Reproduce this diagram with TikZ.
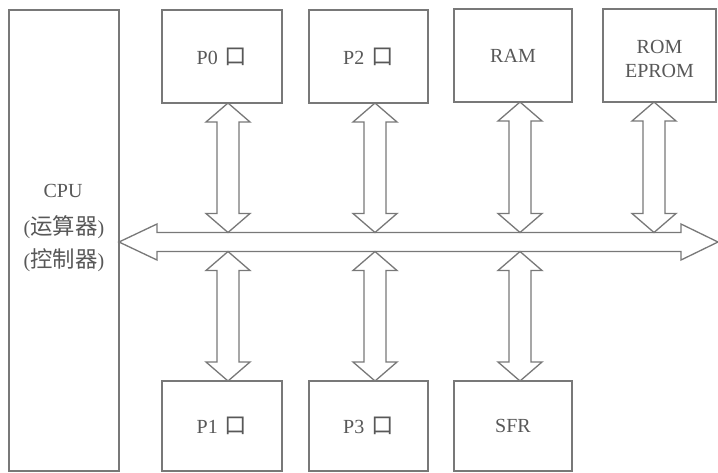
\documentclass[tikz,border=0pt]{standalone}
\usepackage{fontspec}
\setmainfont{Liberation Serif}
\newfontfamily\cjk[Scale=1.12]{Noto Sans CJK SC}
\definecolor{ln}{HTML}{787878}
\definecolor{tx}{HTML}{585858}
\newcommand\vdarr[3]{\draw[arr] (#1,#2) -- ({#1+22},{#2+19}) -- ({#1+11},{#2+19}) -- ({#1+11},{#3-19}) -- ({#1+22},{#3-19}) -- (#1,#3) -- ({#1-22},{#3-19}) -- ({#1-11},{#3-19}) -- ({#1-11},{#2+19}) -- ({#1-22},{#2+19}) -- cycle;}
\newcommand\kou{\hspace{0.35em}{\cjk 口}}
\begin{document}
\begin{tikzpicture}[x=1pt,y=-1pt,
  box/.style={draw=ln,line width=1.5pt,inner sep=0pt,text=tx,font=\fontsize{20}{25}\selectfont,align=center},
  lbl/.style={text=tx,font=\fontsize{20}{25}\selectfont,align=center,inner sep=0pt},
  arr/.style={draw=ln,line width=1.3pt,fill=white,line join=miter}]
\useasboundingbox (0,0) rectangle (718,472);
\fill[white] (0,0) rectangle (718,472);
% boxes
\node[box,minimum width=110,minimum height=461] (cpu) at (64,240.5) {};
\node[lbl] (cpua) at (63,191) {CPU};
\node[lbl] (cpub) at (64,227) {({\cjk 运算器})};
\node[lbl] (cpuc) at (64,260) {({\cjk 控制器})};
\node[box,minimum width=120,minimum height=93] (p0) at (222,56.5) {P0\kou};
\node[box,minimum width=119,minimum height=93] (p2) at (368.5,56.5) {P2\kou};
\node[box,minimum width=118,minimum height=93] (ram) at (513,55.5) {RAM};
\node[box,minimum width=113,minimum height=93] (rom) at (659.5,55.5) {};
\node[lbl] (romt) at (659.5,59) {ROM\\[-1pt]EPROM};
\node[box,minimum width=120,minimum height=90] (p1) at (222,426) {P1\kou};
\node[box,minimum width=119,minimum height=90] (p3) at (368.5,426) {P3\kou};
\node[box,minimum width=118,minimum height=90] (sfr) at (513,426) {SFR};
% bus
\coordinate (bl) at (119,242);
\coordinate (br) at (718,242);
\draw[arr] (bl) -- (157,224) -- (157,232.5) -- (681,232.5) -- (681,224) -- (br) -- (681,260) -- (681,251.5) -- (157,251.5) -- (157,260) -- cycle;
% vertical arrows
\vdarr{228}{103}{232.5}
\vdarr{375}{103}{232.5}
\vdarr{520}{102}{232.5}
\vdarr{654}{102}{232.5}
\vdarr{228}{251.5}{381}
\vdarr{375}{251.5}{381}
\vdarr{520}{251.5}{381}
\end{tikzpicture}
\end{document}
